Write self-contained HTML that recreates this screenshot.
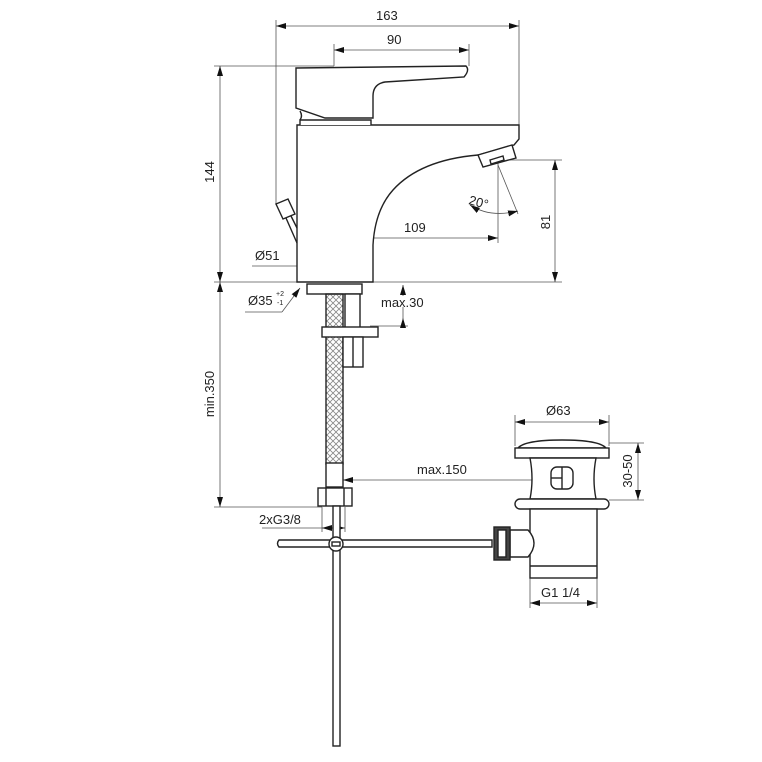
<!DOCTYPE html>
<html><head><meta charset="utf-8"><style>
html,body{margin:0;padding:0;background:#fff;}
svg{display:block;}
text{font-family:"Liberation Sans",Arial,sans-serif;font-size:13px;fill:#222;}
</style></head><body>
<svg width="762" height="762" viewBox="0 0 762 762" xmlns="http://www.w3.org/2000/svg">
<defs>
<marker id="a" viewBox="0 0 10 6" refX="10" refY="3" markerWidth="10" markerHeight="6" orient="auto-start-reverse" markerUnits="userSpaceOnUse"><path d="M0,0L10,3L0,6z" fill="#111"/></marker>
<pattern id="h" width="6" height="6" patternUnits="userSpaceOnUse"><path d="M0,6L6,0M0,0L6,6" stroke="#888" stroke-width="0.8"/></pattern>
</defs>
<g stroke="#555" stroke-width="0.8" fill="none">
<!-- extension lines -->
<line x1="276" y1="20" x2="276" y2="205"/>
<line x1="519" y1="20" x2="519" y2="125"/>
<line x1="334" y1="44" x2="334" y2="66"/>
<line x1="469" y1="44" x2="469" y2="66"/>
<line x1="214" y1="66" x2="334" y2="66"/>
<line x1="214" y1="282" x2="562" y2="282"/>
<line x1="498" y1="160" x2="562" y2="160"/>
<line x1="498" y1="160" x2="498" y2="243"/>
<line x1="498" y1="165" x2="518" y2="214"/>
<line x1="214" y1="507" x2="322" y2="507"/>
<line x1="322" y1="507" x2="322" y2="532"/>
<line x1="345" y1="507" x2="345" y2="532"/>
<line x1="515" y1="415" x2="515" y2="446"/>
<line x1="609" y1="415" x2="609" y2="446"/>
<line x1="609" y1="443" x2="644" y2="443"/>
<line x1="609" y1="500" x2="644" y2="500"/>
<line x1="530" y1="578" x2="530" y2="608"/>
<line x1="597" y1="578" x2="597" y2="608"/>
<line x1="370" y1="326" x2="408" y2="326"/>
<line x1="245" y1="312" x2="282" y2="312"/>
<line x1="282" y1="312" x2="300" y2="288" marker-end="url(#a)"/>
<!-- dimension lines -->
<line x1="276" y1="26" x2="519" y2="26" marker-start="url(#a)" marker-end="url(#a)"/>
<line x1="334" y1="50" x2="469" y2="50" marker-start="url(#a)" marker-end="url(#a)"/>
<line x1="220" y1="66" x2="220" y2="282" marker-start="url(#a)" marker-end="url(#a)"/>
<line x1="220" y1="282" x2="220" y2="507" marker-start="url(#a)" marker-end="url(#a)"/>
<line x1="555" y1="160" x2="555" y2="282" marker-start="url(#a)" marker-end="url(#a)"/>
<line x1="334" y1="238" x2="498" y2="238" marker-start="url(#a)" marker-end="url(#a)"/>
<line x1="252" y1="266" x2="373" y2="266"/>
<line x1="297" y1="266" x2="373" y2="266" marker-start="url(#a)" marker-end="url(#a)"/>
<path d="M470,205 Q490,218 518,211" marker-start="url(#a)" marker-end="url(#a)"/>
<line x1="403" y1="296" x2="403" y2="285" marker-end="url(#a)"/>
<line x1="403" y1="307" x2="403" y2="318"/>
<line x1="403" y1="318" x2="403" y2="326" marker-start="url(#a)"/>
<line x1="262" y1="528" x2="345" y2="528"/>
<line x1="322" y1="528" x2="345" y2="528" marker-start="url(#a)" marker-end="url(#a)"/>
<line x1="343" y1="480" x2="555" y2="480" marker-start="url(#a)" marker-end="url(#a)"/>
<line x1="515" y1="422" x2="609" y2="422" marker-start="url(#a)" marker-end="url(#a)"/>
<line x1="638" y1="443" x2="638" y2="500" marker-start="url(#a)" marker-end="url(#a)"/>
<line x1="530" y1="603" x2="597" y2="603" marker-start="url(#a)" marker-end="url(#a)"/>
</g>
<g stroke="#222" stroke-width="1.4" fill="#fff">
<!-- faucet body -->
<path d="M297,125 L519,125 L519,139 L514,145 L478,155 Q420,160 393,190 Q375,210 373,245 L373,282 L297,282 Z"/>
<path d="M300,125 L300,120 L371,120 L371,125"/>
<!-- handle -->
<path d="M296,68 L466,66 Q470,70 464,77 L385,82 Q373,84 373,96 L373,118 L325,118 L296,108 Z"/>
<path d="M300,111 Q303,116 300,120"/>
<!-- aerator -->
<path d="M478,155 L512,145 L516,158 L483,167 Z"/>
<path d="M490,160 L503,156 L504,160 L491,164 Z"/>
<!-- pop-up knob -->
<path d="M276,204 L288,199 L295,214 L283,219 Z"/>
<path d="M286,218 L297,243 M291,216 L297,228"/>
<!-- flange/shank -->
<rect x="307" y="284" width="55" height="10"/>
<rect x="326" y="294" width="17" height="170" fill="url(#h)"/>
<rect x="345" y="294" width="15" height="34"/>
<rect x="322" y="327" width="56" height="10"/>
<rect x="343" y="337" width="20" height="30"/>
<line x1="353" y1="337" x2="353" y2="367"/>
<rect x="326" y="463" width="17" height="24"/>
<rect x="318" y="488" width="34" height="18"/>
<line x1="326" y1="488" x2="326" y2="506"/><line x1="344" y1="488" x2="344" y2="506"/>
<!-- vertical rod -->
<rect x="333" y="506" width="7" height="240"/>
<!-- horizontal rod -->
<path d="M279,540 L492,540 L492,547 L279,547 Q276,543.5 279,540 Z"/>
<circle cx="336" cy="544" r="7"/>
<rect x="332" y="542" width="8" height="4"/>
<!-- waste -->
<path d="M518,448 Q525,440 562,440 Q599,440 606,448 Z"/>
<rect x="515" y="448" width="94" height="10"/>
<path d="M530,458 L596,458 Q592,479 596,499 L530,499 Q534,479 530,458 Z"/>
<rect x="551" y="467" width="22" height="22" rx="6"/>
<line x1="562" y1="467" x2="562" y2="489"/><line x1="551" y1="478" x2="562" y2="478"/>
<rect x="515" y="499" width="94" height="10" rx="5"/>
<rect x="530" y="509" width="67" height="69"/>
<line x1="530" y1="566" x2="597" y2="566"/>
<path d="M510,530 L528,530 Q540,543 528,557 L510,557 Z"/>
<rect x="494" y="527" width="16" height="33" fill="#444"/>
<rect x="498" y="530" width="8" height="27"/>
</g>
<!-- labels -->
<text x="376" y="20">163</text>
<text x="387" y="44">90</text>
<text x="210" y="172" text-anchor="middle" transform="rotate(-90 210 172)" dy="4">144</text>
<text x="546" y="222" text-anchor="middle" transform="rotate(-90 546 222)" dy="4">81</text>
<text x="468" y="204" transform="rotate(15 468 204)">20°</text>
<text x="404" y="232">109</text>
<text x="255" y="260">Ø51</text>
<text x="248" y="305">Ø35</text>
<text x="276" y="296" style="font-size:7px">+2</text>
<text x="277" y="305" style="font-size:7px">-1</text>
<text x="381" y="307">max.30</text>
<text x="210" y="394" text-anchor="middle" transform="rotate(-90 210 394)" dy="4">min.350</text>
<text x="417" y="474">max.150</text>
<text x="259" y="524">2xG3/8</text>
<text x="546" y="415">Ø63</text>
<text x="628" y="471" text-anchor="middle" transform="rotate(-90 628 471)" dy="4">30-50</text>
<text x="541" y="597">G1 1/4</text>
</svg>
</body></html>
